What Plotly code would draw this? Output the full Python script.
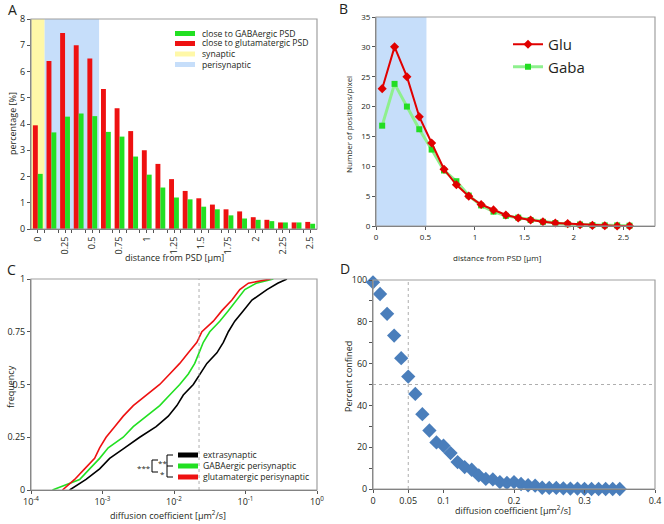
import numpy as np
import plotly.graph_objects as go

W, H = 664, 524
FONT = "Open Sans"
TXT = "#231f20"

# ---------------- Panel A data ----------------
a_dist = [0, 0.125, 0.25, 0.375, 0.5, 0.625, 0.75, 0.875, 1.0, 1.125, 1.25, 1.375,
          1.5, 1.625, 1.75, 1.875, 2.0, 2.125, 2.25, 2.375, 2.5]
a_glu = [3.95, 6.4, 7.47, 7.0, 6.5, 5.33, 4.6, 3.73, 3.0, 2.48, 1.9, 1.45,
         1.17, 0.93, 0.75, 0.67, 0.45, 0.35, 0.25, 0.25, 0.27]
a_gaba = [2.1, 3.68, 4.28, 4.4, 4.3, 3.7, 3.52, 2.76, 2.07, 1.58, 1.2, 1.13,
          0.85, 0.75, 0.52, 0.4, 0.35, 0.3, 0.25, 0.25, 0.2]
a_ticks = [0, 0.25, 0.5, 0.75, 1, 1.25, 1.5, 1.75, 2, 2.25, 2.5]
a_ticklabels = ["0", "0.25", "0.5", "0.75", "1", "1.25", "1.5", "1.75", "2", "2.25", "2.5"]

# ---------------- Panel B data ----------------
b_dist = [0.0625, 0.1875, 0.3125, 0.4375, 0.5625, 0.6875, 0.8125, 0.9375, 1.0625,
          1.1875, 1.3125, 1.4375, 1.5625, 1.6875, 1.8125, 1.9375, 2.0625, 2.1875,
          2.3125, 2.4375, 2.5625]
b_glu = [23.0, 30.0, 25.0, 18.3, 13.9, 9.5, 6.9, 5.0, 3.6, 2.7, 1.85, 1.35, 1.0,
         0.7, 0.5, 0.4, 0.2, 0.1, 0.05, 0.0, 0.0]
b_gaba = [16.8, 23.8, 20.0, 16.2, 12.8, 9.3, 7.5, 5.1, 3.45, 2.4, 1.7, 1.4, 1.0,
          0.7, 0.5, 0.3, 0.25, 0.15, 0.1, 0.1, 0.05]

# ---------------- Panel C data (cumulative distributions) ----------------
c_freq = [0.0, 0.05, 0.1, 0.15, 0.2, 0.25, 0.3, 0.35, 0.4, 0.45, 0.5, 0.55, 0.6,
          0.65, 0.7, 0.75, 0.8, 0.85, 0.9, 0.95, 0.98, 1.0]
c_log_extra = [-3.46, -3.23, -3.04, -2.90, -2.69, -2.48, -2.25, -2.08, -1.96, -1.87,
               -1.73, -1.64, -1.54, -1.40, -1.31, -1.24, -1.15, -1.03, -0.91, -0.70,
               -0.55, -0.42]
c_log_gaba = [-3.70, -3.32, -3.18, -3.04, -2.92, -2.71, -2.57, -2.39, -2.20, -2.06,
              -1.92, -1.80, -1.71, -1.65, -1.59, -1.50, -1.36, -1.24, -1.12, -1.01,
              -0.85, -0.61]
c_log_glu = [-3.56, -3.39, -3.25, -3.11, -3.04, -2.95, -2.83, -2.71, -2.57, -2.39,
             -2.20, -2.06, -1.92, -1.80, -1.68, -1.61, -1.45, -1.33, -1.19, -1.08,
             -0.96, -0.65]
c_cut = 0.0224
c_tickvals = [1e-4, 1e-3, 1e-2, 1e-1, 1e0]
c_ticktext = ["10<sup>-4</sup>", "10<sup>-3</sup>", "10<sup>-2</sup>", "10<sup>-1</sup>", "10<sup>0</sup>"]

# ---------------- Panel D data ----------------
d_coef = [0.00, 0.01, 0.02, 0.03, 0.04, 0.05, 0.06, 0.07, 0.08, 0.09, 0.10, 0.11,
          0.12, 0.13, 0.14, 0.15, 0.16, 0.17, 0.18, 0.19, 0.20, 0.21, 0.22, 0.23,
          0.24, 0.25, 0.26, 0.27, 0.28, 0.29, 0.30, 0.31, 0.32, 0.33, 0.34, 0.35]
d_conf = [98.9, 93.3, 83.8, 73.4, 62.6, 53.8, 45.5, 35.8, 28.0, 22.3, 20.7, 17.2,
          12.9, 10.5, 9.2, 6.5, 4.8, 4.6, 3.3, 2.9, 3.3, 2.4, 1.8, 1.6,
          0.6, 0.5, 0.5, 0.3, 0.2, 0.2, 0.1, 0.0, 0.0, 0.0, 0.0, 0.0]
d_xticks = [0, 0.05, 0.1, 0.2, 0.3, 0.4]
d_xticklabels = ["0", "0.05", "0.1", "0.2", "0.3", "0.4"]


def px(x):
    return x / W


def py(y):
    return 1 - y / H


fig = go.Figure()

RED = "#ee1111"
GREEN = "#22e022"

# Panel A bars
fig.add_trace(go.Bar(x=a_dist, y=a_glu, marker=dict(color=RED, line_width=0),
                     xaxis="x", yaxis="y", showlegend=False))
fig.add_trace(go.Bar(x=a_dist, y=a_gaba, marker=dict(color=GREEN, line_width=0),
                     xaxis="x", yaxis="y", showlegend=False))

# Panel B lines
fig.add_trace(go.Scatter(x=b_dist, y=b_gaba, mode="lines+markers", name="Gaba",
                         line=dict(color="#8ef08e", width=3),
                         marker=dict(symbol="square", size=6, color="#22dd22"),
                         xaxis="x2", yaxis="y2", legend="legend2", legendrank=2,
                         cliponaxis=False))
fig.add_trace(go.Scatter(x=b_dist, y=b_glu, mode="lines+markers", name="Glu",
                         line=dict(color="#e00000", width=2),
                         marker=dict(symbol="diamond", size=7, color="#e00000"),
                         xaxis="x2", yaxis="y2", legend="legend2", legendrank=1,
                         cliponaxis=False))

# Panel C cumulative curves
for logs, col in [(c_log_extra, "#000000"), (c_log_gaba, "#22e022"), (c_log_glu, "#ee1111")]:
    fig.add_trace(go.Scatter(x=10 ** np.array(logs), y=c_freq, mode="lines",
                             line=dict(color=col, width=1.6),
                             xaxis="x3", yaxis="y3", showlegend=False))

# Panel D
fig.add_trace(go.Scatter(x=d_coef, y=d_conf, mode="markers",
                         marker=dict(symbol="diamond", size=11, color="#4a7ebb"),
                         xaxis="x4", yaxis="y4", showlegend=False, cliponaxis=False))

tickfont9 = dict(family=FONT, size=9, color=TXT)
tickfont8 = dict(family=FONT, size=8, color=TXT)
common = dict(showgrid=False, zeroline=False, showline=True, linecolor="#666",
              linewidth=1, ticks="outside", ticklen=3, tickcolor="#555", mirror=False,
              automargin=False)

fig.update_layout(
    width=W, height=H, margin=dict(l=0, r=0, t=0, b=0, autoexpand=False),
    paper_bgcolor="white", plot_bgcolor="white",
    font=dict(family=FONT, color=TXT),
    barmode="group", bargap=0.28, bargroupgap=0.0,
    xaxis=dict(domain=[px(31), px(317)], range=[-0.0625, 2.5625], tickvals=a_ticks,
               ticktext=a_ticklabels, tickangle=-90, tickfont=tickfont9, anchor="y",
               minor=dict(ticks="outside", tickvals=[v + 0.0625 for v in a_dist[:-1]],
                          ticklen=3, tickcolor="#555"),
               **common),
    yaxis=dict(domain=[py(229), py(19)], range=[0, 8], dtick=1, tickfont=tickfont9,
               anchor="x", **common),
    xaxis2=dict(domain=[px(376), px(655)], range=[0, 2.82], tickvals=[0, 0.5, 1, 1.5, 2, 2.5],
                ticktext=["0", "0.5", "1", "1.5", "2", "2.5"], tickfont=tickfont8, anchor="y2",
                **common),
    yaxis2=dict(domain=[py(226), py(17)], range=[0, 35], dtick=5, tickfont=tickfont8,
                anchor="x2", **common),
    xaxis3=dict(domain=[px(31), px(317)], type="log", range=[-4, 0], tickvals=c_tickvals,
                ticktext=c_ticktext, tickfont=tickfont9, anchor="y3", **common),
    yaxis3=dict(domain=[py(490), py(279)], range=[0, 1], tickvals=[0, 0.25, 0.5, 0.75, 1],
                ticktext=["0", "0.25", "0.5", "0.75", "1"], tickfont=tickfont9, anchor="x3",
                **common),
    xaxis4=dict(domain=[px(373), px(655)], range=[0, 0.4], tickvals=d_xticks,
                ticktext=d_xticklabels, tickfont=tickfont9, anchor="y4", **common),
    yaxis4=dict(domain=[py(489), py(280)], range=[0, 100], dtick=20, tickfont=tickfont9,
                anchor="x4", minor=dict(ticks="outside", dtick=10, ticklen=3, tickcolor="#555"),
                **common),
    legend2=dict(x=px(508), y=py(28), xanchor="left", yanchor="top",
                 font=dict(family=FONT, size=15, color=TXT), bgcolor="rgba(0,0,0,0)",
                 tracegroupgap=8, itemwidth=30),
)

shapes = []
# background bands, panel A
shapes.append(dict(type="rect", xref="x", yref="y", x0=-0.0625, x1=0.0625, y0=0, y1=8,
                   fillcolor="#fff8a8", line_width=0, layer="below"))
shapes.append(dict(type="rect", xref="x", yref="y", x0=0.0625, x1=0.5625, y0=0, y1=8,
                   fillcolor="#c6defa", line_width=0, layer="below"))
# band panel B
shapes.append(dict(type="rect", xref="x2", yref="y2", x0=0, x1=0.51, y0=0, y1=35,
                   fillcolor="#c6defa", line_width=0, layer="below"))
# frames
for xa, ya in [("x", "y"), ("x2", "y2"), ("x3", "y3"), ("x4", "y4")]:
    shapes.append(dict(type="rect", xref=f"{xa} domain", yref=f"{ya} domain",
                       x0=0, x1=1, y0=0, y1=1, line=dict(color="#a0a0a0", width=1.2),
                       fillcolor="rgba(0,0,0,0)", layer="above"))
# dashed reference lines
shapes.append(dict(type="line", xref="x3", yref="y3 domain", x0=c_cut, x1=c_cut, y0=0, y1=1,
                   line=dict(color="#999", width=0.8, dash="dot")))
shapes.append(dict(type="line", xref="x4", yref="y4 domain", x0=0.05, x1=0.05, y0=0, y1=1,
                   line=dict(color="#999", width=0.8, dash="dot"), layer="below"))
shapes.append(dict(type="line", xref="x4 domain", yref="y4", x0=0, x1=1, y0=50, y1=50,
                   line=dict(color="#999", width=0.8, dash="dot"), layer="below"))

annotations = []


def note(text, x, y, size=9, angle=0, xanchor="center", yanchor="middle"):
    annotations.append(dict(text=text, x=px(x), y=py(y), xref="paper", yref="paper",
                            showarrow=False, textangle=angle, xanchor=xanchor,
                            yanchor=yanchor, borderpad=0,
                            font=dict(family=FONT, size=size, color=TXT)))


# legend A
for (label, col), yy in zip([("close to GABAergic PSD", GREEN),
                             ("close to glutamatergic PSD", RED),
                             ("synaptic", "#fff8a8"),
                             ("perisynaptic", "#c6defa")], [33.5, 43.5, 54, 64.5]):
    shapes.append(dict(type="line", xref="paper", yref="paper", x0=px(175), x1=px(195),
                       y0=py(yy), y1=py(yy), line=dict(color=col, width=5)))
    note(label, 201, yy, size=8.6, xanchor="left")

# legend C
for (label, col), yy in zip([("extrasynaptic", "#000000"),
                             ("GABAergic perisynaptic", GREEN),
                             ("glutamatergic perisynaptic", RED)], [455, 466, 477]):
    shapes.append(dict(type="line", xref="paper", yref="paper", x0=px(178), x1=px(198),
                       y0=py(yy), y1=py(yy), line=dict(color=col, width=5)))
    note(label, 202, yy, size=8.6, xanchor="left")

# significance brackets
br = dict(color="#000", width=1)
for seg in [((167, 455), (167, 477)), ((167, 455), (173, 455)), ((167, 466), (173, 466)),
            ((167, 477), (173, 477)), ((152, 460), (152, 472)), ((152, 460), (158, 460)),
            ((152, 472), (158, 472))]:
    (x0, y0), (x1, y1) = seg
    shapes.append(dict(type="line", xref="paper", yref="paper", x0=px(x0), x1=px(x1),
                       y0=py(y0), y1=py(y1), line=br))
note("***", 144, 467, size=8)
note("**", 162, 462, size=8)
note("*", 162, 473, size=8)

# panel letters
note("A", 12, 10, size=14)
note("B", 343, 8, size=14)
note("C", 11, 269, size=14)
note("D", 345, 268, size=14)

# axis titles
note("distance from PSD [µm]", 174, 257, size=9)
note("percentage [%]", 12, 124, size=9, angle=-90)
note("distance from PSD [µm]", 497, 257, size=8)
note("Number of positions/pixel", 348, 125, size=8, angle=-90)
note("diffusion coefficient [µm<sup>2</sup>/s]", 168, 515, size=9)
note("frequency", 10, 387, size=9, angle=-90)
note("diffusion coefficient [µm<sup>2</sup>/s]", 513, 510, size=9)
note("Percent confined", 348, 377, size=9, angle=-90)

fig.update_layout(shapes=shapes, annotations=annotations)
fig.write_html("out.html", config={"displayModeBar": False},
               post_script="document.body.style.margin='0';document.body.style.overflow='hidden';")
